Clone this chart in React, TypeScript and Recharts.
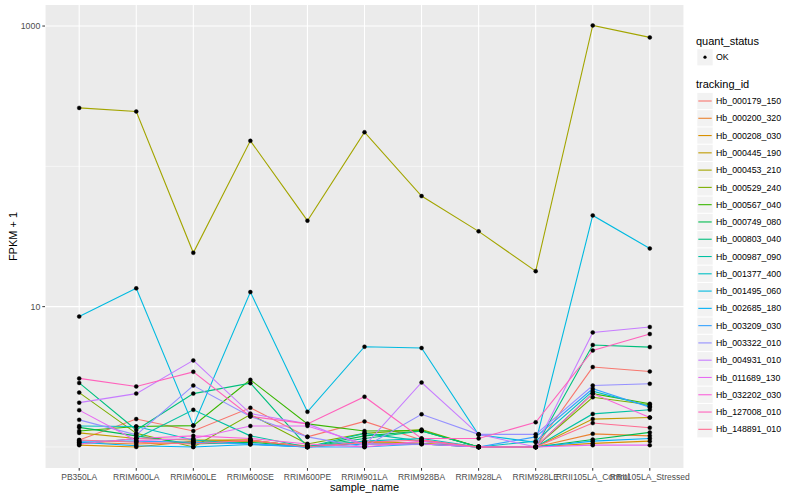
import React from 'react';
import { LineChart, Line, XAxis, YAxis, CartesianGrid, ReferenceLine, Legend } from 'recharts';

const FONT = '"Liberation Sans", Arial, Helvetica, sans-serif';

const samples = [
  'PB350LA', 'RRIM600LA', 'RRIM600LE', 'RRIM600SE', 'RRIM600PE', 'RRIM901LA',
  'RRIM928BA', 'RRIM928LA', 'RRIM928LE', 'RRII105LA_Control', 'RRII105LA_Stressed',
];

const trackingIds = [
  'Hb_000179_150', 'Hb_000200_320', 'Hb_000208_030', 'Hb_000445_190', 'Hb_000453_210',
  'Hb_000529_240', 'Hb_000567_040', 'Hb_000749_080', 'Hb_000803_040', 'Hb_000987_090',
  'Hb_001377_400', 'Hb_001495_060', 'Hb_002685_180', 'Hb_003209_030', 'Hb_003322_010',
  'Hb_004931_010', 'Hb_011689_130', 'Hb_032202_030', 'Hb_127008_010', 'Hb_148891_010',
];

const colors = [
  '#F8766D', '#EA8331', '#D89000', '#C09B00', '#A3A500', '#7CAE00', '#39B600', '#00BB4E',
  '#00BF7D', '#00C1A3', '#00BFC4', '#00BAE0', '#00B0F6', '#35A2FF', '#9590FF', '#C77CFF',
  '#E76BF3', '#FA62DB', '#FF62BC', '#FF6C91',
];

// FPKM + 1 values, one array per tracking_id, in sample order
const hb000179_150 = [1.12, 1.58, 1.3, 1.9, 1.18, 1.52, 1.12, 1.0, 1.0, 3.71, 3.45];
const hb000200_320 = [1.08, 1.05, 1.08, 1.1, 1.02, 1.05, 1.06, 1.0, 1.0, 1.24, 1.2];
const hb000208_030 = [1.03, 1.0, 1.1, 1.12, 1.0, 1.08, 1.05, 1.0, 1.0, 1.06, 1.1];
const hb000445_190 = [1.26, 1.15, 1.12, 1.12, 1.0, 1.1, 1.06, 1.0, 1.0, 1.58, 1.62];
const hb000453_210 = [261, 246, 24.2, 152, 41, 175, 61.4, 34.4, 17.9, 1010, 830];
const hb000529_240 = [2.44, 1.25, 1.0, 1.7, 1.05, 1.25, 1.33, 1.0, 1.0, 2.26, 2.0];
const hb000567_040 = [1.3, 1.4, 1.42, 3.01, 1.46, 1.3, 1.31, 1.0, 1.0, 2.4, 2.03];
const hb000749_080 = [1.38, 1.2, 1.05, 1.08, 1.0, 1.2, 1.3, 1.0, 1.0, 1.13, 1.27];
const hb000803_040 = [2.86, 1.32, 2.4, 2.85, 1.0, 1.15, 1.3, 1.0, 1.0, 5.33, 5.15];
const hb000987_090 = [1.05, 1.15, 1.84, 1.2, 1.0, 1.25, 1.1, 1.0, 1.0, 1.72, 1.84];
const hb001377_400 = [1.41, 1.4, 1.12, 1.05, 1.0, 1.1, 1.15, 1.0, 1.1, 2.5, 1.95];
const hb001495_060 = [8.5, 13.5, 1.42, 12.7, 1.78, 5.18, 5.07, 1.22, 1.08, 44.7, 26];
const hb002685_180 = [1.08, 1.02, 1.0, 1.04, 1.0, 1.05, 1.05, 1.0, 1.0, 1.1, 1.15];
const hb003209_030 = [1.1, 1.1, 1.08, 1.05, 1.0, 1.0, 1.05, 1.0, 1.18, 2.6, 1.92];
const hb003322_010 = [1.56, 1.22, 2.74, 1.65, 1.18, 1.0, 1.71, 1.23, 1.23, 2.74, 2.82];
const hb004931_010 = [2.07, 2.4, 4.14, 1.73, 1.46, 1.02, 2.88, 1.23, 1.0, 6.55, 7.16];
const hb011689_130 = [1.83, 1.11, 1.15, 1.41, 1.41, 1.05, 1.05, 1.0, 1.0, 1.03, 1.03];
const hb032202_030 = [1.05, 1.15, 1.2, 1.15, 1.05, 1.0, 1.1, 1.0, 1.0, 2.4, 1.62];
const hb127008_010 = [3.08, 2.7, 3.43, 1.65, 1.46, 2.28, 1.15, 1.15, 1.5, 4.87, 6.38];
const hb148891_010 = [1.12, 1.08, 1.05, 1.12, 1.0, 1.08, 1.12, 1.0, 1.0, 1.48, 1.37];

const seriesValues = [
  hb000179_150, hb000200_320, hb000208_030, hb000445_190, hb000453_210,
  hb000529_240, hb000567_040, hb000749_080, hb000803_040, hb000987_090,
  hb001377_400, hb001495_060, hb002685_180, hb003209_030, hb003322_010,
  hb004931_010, hb011689_130, hb032202_030, hb127008_010, hb148891_010,
];

const yTicks = [10, 1000];
const yMinor = [1, 100];

const data = samples.map((s, i) => {
  const row: Record<string, any> = { sample: s };
  trackingIds.forEach((id, k) => {
    row[id] = seriesValues[k][i];
  });
  return row;
});

const renderLegend = () => {
  const step = 17.28;
  return (
    <svg width={110} height={430} style={{ display: 'block', fontFamily: FONT }}>
      <text x={6} y={24.5} fontSize={11} fill="#000">quant_status</text>
      <rect x={7.3} y={29.2} width={15.4} height={16.2} fill="#F2F2F2" />
      <circle cx={15} cy={37.2} r={1.6} fill="#000" />
      <text x={26} y={40.3} fontSize={8.8} fill="#000">OK</text>
      <text x={6} y={68} fontSize={11} fill="#000">tracking_id</text>
      {trackingIds.map((id, i) => {
        const cy = 81 + i * step;
        return (
          <g key={id}>
            <rect x={7.3} y={cy - 8.1} width={15.4} height={16.2} fill="#F2F2F2" />
            <line x1={8.3} x2={21.7} y1={cy} y2={cy} stroke={colors[i]} strokeWidth={1.1} />
            <text x={26} y={cy + 3.1} fontSize={8.8} fill="#000">{id}</text>
          </g>
        );
      })}
    </svg>
  );
};

export default function App() {
  return (
    <div style={{ position: 'absolute', left: 0, top: 0, width: 800, height: 500, background: '#FFFFFF' }}>
      <LineChart
        width={800}
        height={500}
        data={data}
        margin={{ top: 5, right: 116, bottom: 0, left: 0 }}
        style={{ fontFamily: FONT }}
      >
        <CartesianGrid
          horizontal={false}
          vertical
          stroke="#FFFFFF"
          strokeWidth={1.07}
          fill="#EBEBEB"
          fillOpacity={1}
        />
        {yMinor.map((v) => (
          <ReferenceLine key={'m' + v} y={v} stroke="#FFFFFF" strokeWidth={0.55} />
        ))}
        {yTicks.map((v) => (
          <ReferenceLine key={'M' + v} y={v} stroke="#FFFFFF" strokeWidth={1.07} />
        ))}
        <XAxis
          dataKey="sample"
          type="category"
          interval={0}
          padding={{ left: 34.2, right: 34.2 }}
          height={32}
          axisLine={false}
          tickLine={{ stroke: '#333333' }}
          tickSize={2.7}
          tickMargin={3}
          tick={{ fill: '#4D4D4D', fontSize: 8.5, fontFamily: FONT }}
          label={{ value: 'sample_name', position: 'insideBottom', offset: 9, fill: '#000000', fontSize: 11, fontFamily: FONT }}
        />
        <YAxis
          type="number"
          scale="log"
          domain={[0.708, 1412.5]}
          allowDataOverflow
          ticks={yTicks}
          width={45}
          axisLine={false}
          tickLine={{ stroke: '#333333' }}
          tickSize={2.7}
          tickMargin={2}
          tick={{ fill: '#4D4D4D', fontSize: 8.8, fontFamily: FONT }}
          label={{
            value: 'FPKM + 1',
            angle: -90,
            position: 'insideLeft',
            offset: 13,
            fill: '#000000',
            fontSize: 11,
            fontFamily: FONT,
            style: { textAnchor: 'middle' },
          }}
        />
        <Legend
          layout="vertical"
          align="center"
          verticalAlign="middle"
          content={renderLegend}
          wrapperStyle={{ left: 690, top: 20, width: 110, height: 430 }}
        />
        {trackingIds.map((id, k) => (
          <Line
            key={'l' + id}
            dataKey={id}
            type="linear"
            stroke={colors[k]}
            strokeWidth={1.1}
            dot={false}
            activeDot={false}
            isAnimationActive={false}
          />
        ))}
        {trackingIds.map((id) => (
          <Line
            key={'p' + id}
            dataKey={id}
            type="linear"
            stroke="none"
            legendType="none"
            dot={{ r: 2, fill: '#000000', stroke: '#000000', strokeWidth: 0.4 }}
            activeDot={false}
            isAnimationActive={false}
          />
        ))}
      </LineChart>
    </div>
  );
}
